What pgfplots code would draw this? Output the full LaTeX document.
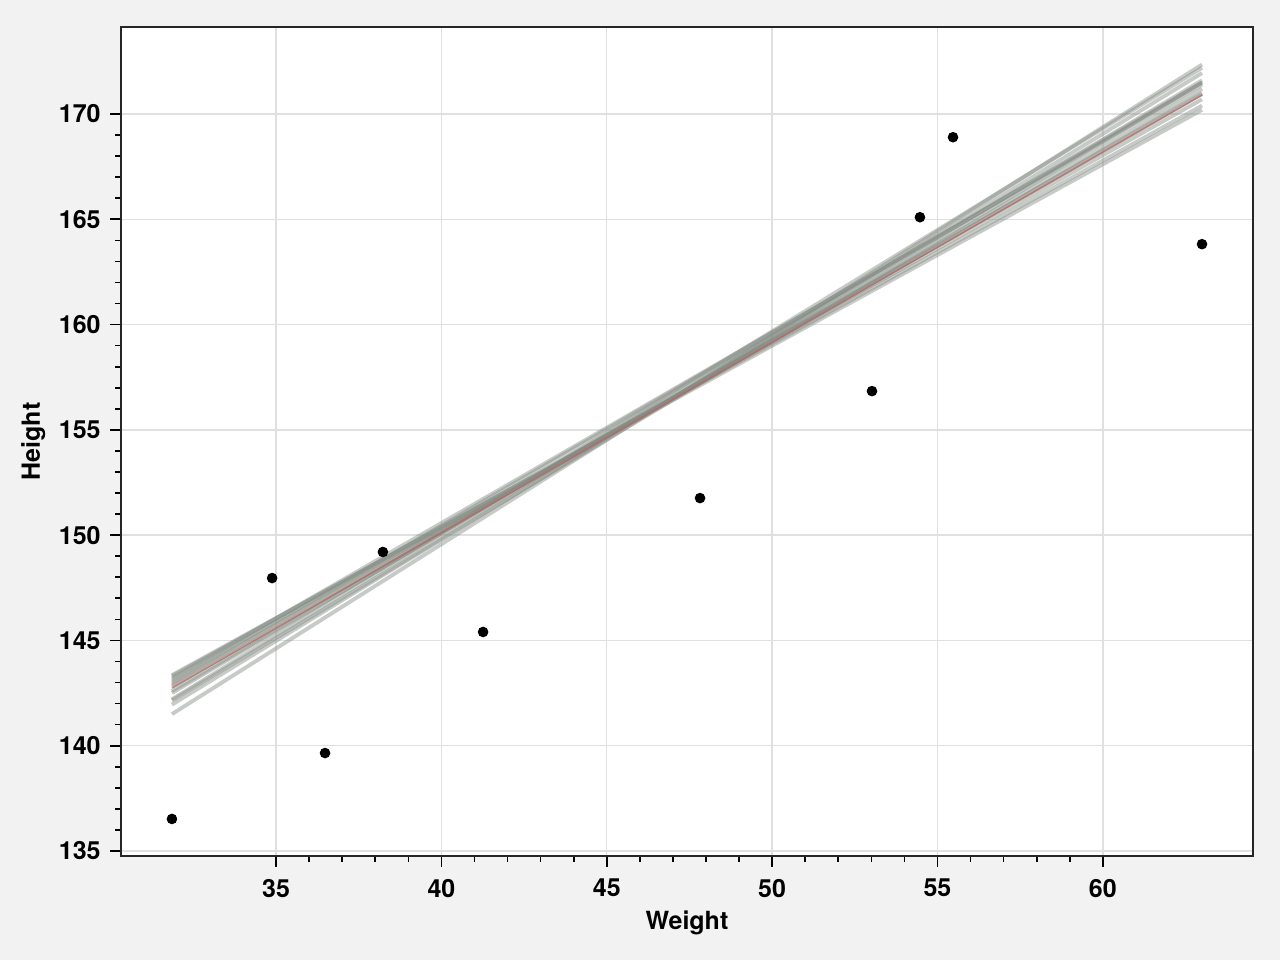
\documentclass[border=0pt]{standalone}
\usepackage{pgfplots}
\pgfplotsset{compat=1.18}
\usepackage{fontspec}
\setmainfont{TeX Gyre Heros}
\definecolor{bgc}{HTML}{F2F2F2}
\definecolor{gridc}{HTML}{E0E0E0}
\definecolor{fitc}{HTML}{C06058}
\definecolor{bsc}{HTML}{858C85}
\begin{document}
\begin{tikzpicture}
\fill[bgc] (-43.56pt,-37.44pt) rectangle (417.24pt,308.16pt);
\useasboundingbox (-43.56pt,-37.44pt) rectangle (417.24pt,308.16pt);
\begin{axis}[
  scale only axis,
  width=407.5pt, height=298.4pt,
  at={(0,0)}, anchor=south west,
  xmin=30.31, xmax=64.54, ymin=134.76, ymax=174.13,
  xtick={35,40,45,50,55,60}, ytick={135,140,145,150,155,160,165,170},
  minor tick num=4,
  tick align=outside, tick pos=left,
  major tick length=3.8pt, minor tick length=2pt,
  every tick/.style={black, line width=0.6pt},
  axis line style={line width=0.7pt, black!85},
  axis background/.style={fill=white},
  grid=major, major grid style={gridc, line width=0.5pt},
  /pgf/number format/assume math mode=true,
  tick label style={font=\fontsize{9}{10}\selectfont\bfseries},
  xticklabel style={yshift=-1pt},
  label style={font=\fontsize{9}{10}\selectfont\bfseries},
  xlabel={Weight}, ylabel={Height},
  xlabel style={yshift=2pt},
  ylabel style={yshift=-2pt},
  clip=true,
]
\pgfplotsset{bs/.style={bsc, opacity=0.45, line width=1.4pt}}
\addplot[bs] coordinates {(31.85,141.5) (63.0,172.35)};
\addplot[bs] coordinates {(31.85,141.95) (63.0,171.95)};
\addplot[bs] coordinates {(31.85,142.15) (63.0,171.5)};
\addplot[bs] coordinates {(31.85,142.6) (63.0,171.2)};
\addplot[bs] coordinates {(31.85,142.9) (63.0,170.95)};
\addplot[bs] coordinates {(31.85,143.0) (63.0,171.5)};
\addplot[bs] coordinates {(31.85,143.3) (63.0,170.4)};
\addplot[bs] coordinates {(31.85,143.35) (63.0,170.2)};
\addplot[bs] coordinates {(31.85,142.8) (63.0,171.0)};
\addplot[bs] coordinates {(31.85,143.1) (63.0,170.7)};
\addplot[bs] coordinates {(31.85,142.2) (63.0,172.2)};
\addplot[bs] coordinates {(31.85,143.2) (63.0,171.4)};
\addplot[bs] coordinates {(31.85,142.5) (63.0,171.6)};
\addplot[fitc, opacity=0.7, line width=0.5pt] coordinates {(31.85,142.74) (63.0,170.9)};
\addplot[only marks, mark=*, mark size=1.7pt, black] coordinates {
(31.85,136.52) (34.88,147.96) (36.48,139.65) (38.23,149.2) (41.26,145.4)
(47.82,151.76) (53.02,156.84) (54.47,165.1) (55.47,168.9) (63.0,163.82)};
\end{axis}
\end{tikzpicture}
\end{document}
